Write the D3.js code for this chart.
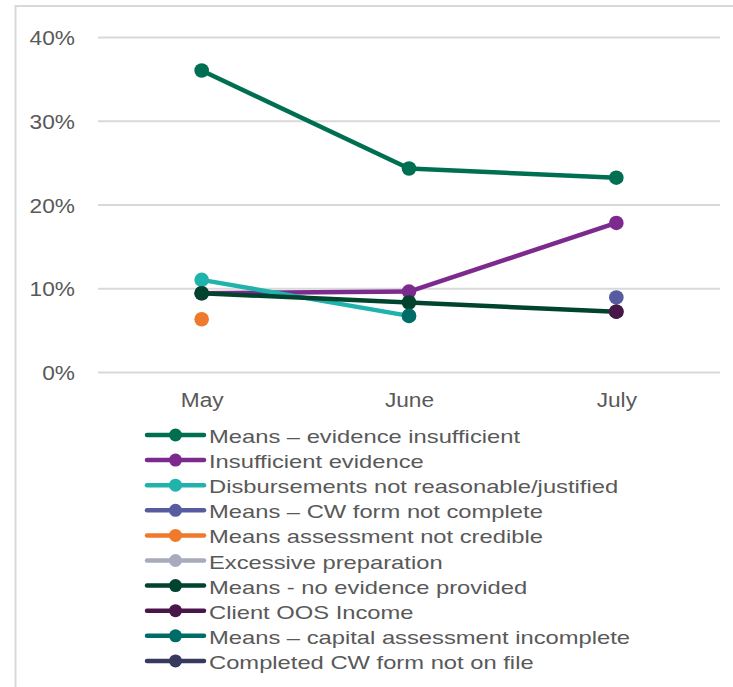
<!DOCTYPE html>
<html>
<head>
<meta charset="utf-8">
<script src="https://cdn.jsdelivr.net/npm/d3@7"></script>
<style>
  html, body { margin: 0; padding: 0; background: #ffffff; }
  svg { display: block; font-family: "Liberation Sans", Arial, sans-serif; }
</style>
</head>
<body>
<svg id="chart" width="733" height="687"></svg>
<script>
// Months on the x axis
const months = ["May", "June", "July"];

// Y axis ticks (percent)
const yTicks = [0, 10, 20, 30, 40];

// Series names, in legend order
const seriesNames = [
  "Means \u2013 evidence insufficient",
  "Insufficient evidence",
  "Disbursements not reasonable/justified",
  "Means \u2013 CW form not complete",
  "Means assessment not credible",
  "Excessive preparation",
  "Means - no evidence provided",
  "Client OOS Income",
  "Means \u2013 capital assessment incomplete",
  "Completed CW form not on file"
];

// Share of files per month (%), null where no value
const meansEvidenceInsufficient = [36.0, 24.3, 23.2];
const insufficientEvidence       = [9.4, 9.6, 17.8];
const disbursementsNotReasonable = [11.0, 6.7, null];
const meansCwFormNotComplete     = [null, null, 8.9];
const meansAssessmentNotCredible = [6.3, null, null];
const excessivePreparation       = [null, null, null];
const meansNoEvidenceProvided    = [9.4, 8.3, 7.2];
const clientOosIncome            = [null, null, 7.2];
const meansCapitalIncomplete     = [null, 6.7, null];
const completedCwFormNotOnFile   = [null, null, null];

const seriesValues = [
  meansEvidenceInsufficient, insufficientEvidence, disbursementsNotReasonable,
  meansCwFormNotComplete, meansAssessmentNotCredible, excessivePreparation,
  meansNoEvidenceProvided, clientOosIncome, meansCapitalIncomplete,
  completedCwFormNotOnFile
];

const seriesColors = [
  "#006f51", "#7d2a8e", "#1fb3ab", "#575b9f", "#f07a2c",
  "#a7abbd", "#00432f", "#4a1649", "#006c67", "#353a5e"
];

const svg = d3.select("#chart");
const textColor = "#595959";
const gridColor = "#d9d9d9";

// Outer frame (top and left edges visible in the canvas)
svg.append("rect")
  .attr("x", 15.5).attr("y", 6)
  .attr("width", 760).attr("height", 720)
  .attr("fill", "none")
  .attr("stroke", gridColor)
  .attr("stroke-width", 2);

const margin = { left: 98, top: 37 };
const width = 622, height = 335;

const g = svg.append("g").attr("transform", `translate(${margin.left},${margin.top})`);

const x = d3.scalePoint().domain(months).range([0, width]).padding(0.5);
const y = d3.scaleLinear().domain([0, 40]).range([height, 0]);

// Horizontal gridlines with percent labels
const axisFontSize = 21, axisStretch = 1.08;
const yAxis = g.append("g")
  .call(d3.axisLeft(y).tickValues(yTicks).tickSize(-width).tickFormat(d => d + "%"));
yAxis.select(".domain").remove();
yAxis.selectAll(".tick line").attr("stroke", gridColor).attr("stroke-width", 2);
yAxis.selectAll(".tick text")
  .attr("x", 0).attr("dy", null)
  .attr("y", 7.5)
  .attr("transform", `translate(-23,0) scale(${axisStretch},1)`)
  .attr("fill", textColor)
  .attr("font-size", axisFontSize)
  .attr("font-family", "'Liberation Sans', Arial, sans-serif")
  .attr("text-anchor", "end");

// Month labels
const xAxis = g.append("g")
  .attr("transform", `translate(0,${height})`)
  .call(d3.axisBottom(x).tickSize(0));
xAxis.select(".domain").remove();
xAxis.selectAll(".tick text")
  .attr("y", 0).attr("dy", null)
  .attr("transform", `translate(0,35) scale(${axisStretch},1)`)
  .attr("fill", textColor)
  .attr("font-size", axisFontSize)
  .attr("font-family", "'Liberation Sans', Arial, sans-serif")
  .attr("text-anchor", "middle");

// Lines and markers
const line = d3.line()
  .defined(d => d.v !== null)
  .x(d => x(d.m))
  .y(d => y(d.v));

seriesValues.forEach((vals, i) => {
  const pts = vals.map((v, j) => ({ m: months[j], v }));
  const sg = g.append("g");
  sg.append("path")
    .datum(pts)
    .attr("fill", "none")
    .attr("stroke", seriesColors[i])
    .attr("stroke-width", 4.5)
    .attr("stroke-linejoin", "round")
    .attr("d", line);
  sg.selectAll("circle")
    .data(pts.filter(d => d.v !== null))
    .join("circle")
    .attr("cx", d => x(d.m))
    .attr("cy", d => y(d.v))
    .attr("r", 7.3)
    .attr("fill", seriesColors[i]);
});

// Legend
const legendFontSize = 19, legendStretch = 1.25;
const legend = svg.append("g").attr("transform", "translate(147,435)");
const rowH = 25.1;
seriesNames.forEach((name, i) => {
  const row = legend.append("g").attr("transform", `translate(0,${i * rowH})`);
  row.append("line")
    .attr("x1", 0).attr("x2", 57)
    .attr("y1", 0).attr("y2", 0)
    .attr("stroke", seriesColors[i])
    .attr("stroke-width", 4.5)
    .attr("stroke-linecap", "round");
  row.append("circle")
    .attr("cx", 28.5).attr("cy", 0).attr("r", 6.5)
    .attr("fill", seriesColors[i]);
  row.append("text")
    .attr("transform", `translate(62,8) scale(${legendStretch},1)`)
    .attr("fill", textColor)
    .attr("font-size", legendFontSize)
    .text(name);
});
</script>
</body>
</html>
